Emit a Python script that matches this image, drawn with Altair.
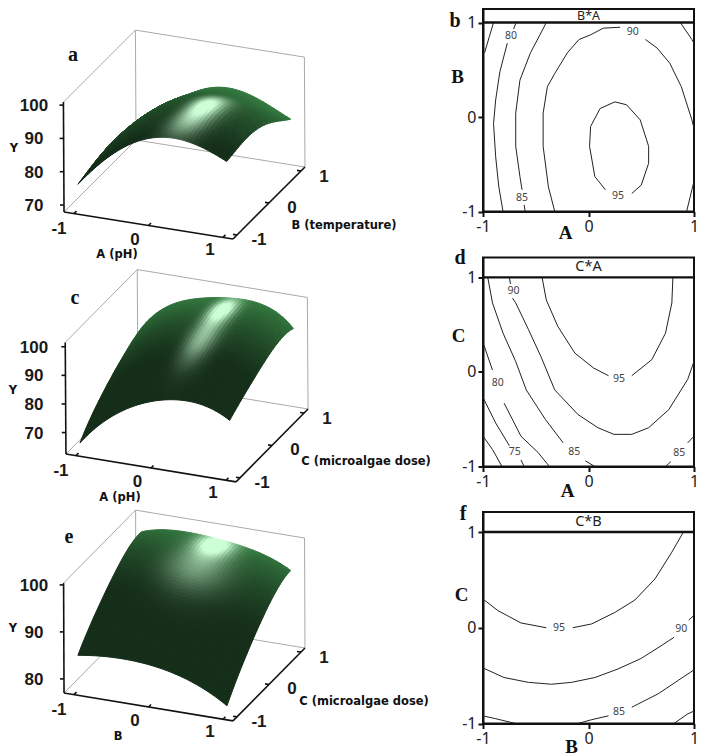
import altair as alt
import numpy as np

# ---------- response tables (rows: second factor -1..1, cols: first factor -1..1)
NODES = [-1, -0.5, 0, 0.5, 1]
SURF_A = [[75.5, 86.8, 93.0, 93.5, 89.5],
          [77.0, 88.2, 94.4, 96.0, 90.4],
          [77.7, 88.6, 94.5, 95.6, 89.9],
          [76.5, 86.7, 92.0, 91.7, 87.0],
          [72.5, 83.3, 89.0, 88.0, 83.0]]
SURF_C = [[65.5, 78.0, 84.5, 86.3, 82.0],
          [72.5, 83.7, 90.2, 91.0, 86.0],
          [77.5, 89.7, 94.7, 95.2, 89.5],
          [81.5, 93.0, 97.5, 98.0, 92.0],
          [84.0, 94.5, 98.0, 98.5, 91.5]]
SURF_E = [[84.5, 85.3, 84.9, 83.0, 79.0],
          [89.2, 90.5, 90.4, 88.5, 84.5],
          [93.0, 94.8, 94.8, 93.0, 89.0],
          [96.0, 97.5, 97.5, 96.2, 92.5],
          [97.0, 98.5, 98.2, 97.0, 94.0]]

# ---------- contour lines: (x, y) in coded units
CONT_B = [
    [(-.90,1),(-.94,.85),(-.985,.68)],
    [(-.69,.99),(-.71,.93)],
    [(-.77,.78),(-.84,.48),(-.88,.18),(-.90,-.07),(-.88,-.42),(-.85,-.74),(-.81,-1)],
    [(-.40,1),(-.46,.87),(-.55,.68),(-.65,.39),(-.69,.04),(-.69,-.31),(-.65,-.63),(-.63,-.77)],
    [(-.61,-.93),(-.60,-1)],
    [(-.32,-1),(-.38,-.74),(-.43,-.31),(-.43,.04),(-.39,.32),(-.32,.46),(-.2,.68),(-.09,.82),(.02,.87),(.14,.94),(.30,.95)],
    [(.54,.82),(.65,.73),(.77,.57),(.88,.32),(.98,-.03),(1,-.12)],
    [(1,-.68),(.98,-.77),(.93,-1)],
    [(.87,1),(.98,.82),(1,.78)],
    [(.16,-.77),(.06,-.63),(.01,-.31),(.02,-.1),(.11,.09),(.25,.16),(.36,.13),(.49,-.03),(.57,-.31),(.57,-.49),(.5,-.72),(.41,-.81)],
]
CONT_D = [
    [(-.44,1),(-.40,.76),(-.29,.48),(-.13,.2),(.05,.04),(.19,-.04)],
    [(.41,-.04),(.6,.13),(.73,.41),(.79,.73),(.80,1)],
    [(-.75,1),(-.74,.93)],
    [(-.72,.78),(-.69,.73),(-.57,.45),(-.45,.16),(-.32,-.19),(-.1,-.45),(.09,-.59),(.24,-.66),(.41,-.66),(.57,-.59),(.76,-.4),(.94,-.08),(1,.11)],
    [(-.955,1),(-.91,.73),(-.81,.41),(-.69,.11),(-.59,-.19),(-.41,-.5),(-.24,-.75)],
    [(-.03,-.94),(.06,-1)],
    [(-1,.31),(-.91,.02)],
    [(-.8,-.33),(-.64,-.68),(-.48,-.85),(-.37,-1)],
    [(-1,-.27),(-.88,-.54),(-.75,-.78)],
    [(-.64,-.93),(-.61,-1)],
    [(-1,-.68),(-.91,-.82),(-.82,-1)],
    [(.73,-1),(.78,-.95)],
    [(.94,-.75),(1,-.68)],
]
CONT_F = [
    [(-1,.3),(-.86,.18),(-.64,.05),(-.4,0)],
    [(-.15,0),(.03,.04),(.25,.16),(.44,.29),(.63,.51),(.79,.79),(.9,1)],
    [(-1,-.42),(-.8,-.52),(-.57,-.57),(-.35,-.59),(-.16,-.57),(.06,-.52),(.28,-.43),(.5,-.32),(.7,-.18),(.81,-.1)],
    [(.95,.08),(1,.13)],
    [(-1,-.92),(-.88,-.95),(-.69,-1)],
    [(-.1,-1),(.03,-.96),(.19,-.92)],
    [(.41,-.83),(.66,-.69),(.85,-.55),(1,-.44)],
    [(.81,-1),(.94,-.9),(1,-.87)],
]
LAB_B = [("80",-.735,.86),("90",.42,.90),("85",-.63,-.86),("95",.28,-.84)]
LAB_D = [("90",-.71,.86),("95",.29,-.07),("80",-.86,-.12),("75",-.70,-.85),("85",-.135,-.85),("85",.86,-.86)]
LAB_F = [("95",-.28,0),("90",.88,-.01),("85",.29,-.88)]

FONT = "Noto Sans"
SERIF = "Liberation Serif"
LEFT = 8
W_LEFT = 432
SN = 44
DARK = np.array([21, 46, 25.0])
MID = np.array([52, 122, 64.0])
LIGHT = np.array([205, 255, 215.0])


def lagrange(t):
    t = np.asarray(t)
    out = np.ones((len(t), len(NODES)))
    for i, ni in enumerate(NODES):
        for j, nj in enumerate(NODES):
            if i != j:
                out[:, i] *= (t - nj) / (ni - nj)
    return out


def hexc(c):
    c = np.clip(c, 0, 255).astype(int)
    return "#%02x%02x%02x" % (c[0], c[1], c[2])


def panel3d(cfg):
    cx, cy = cfg["center"]
    ua, ub, uy = cfg["ua"], cfg["ub"], cfg["uy"]
    yf, ytop = cfg["yfloor"], cfg["ytop"]
    ha, hb = cfg["ha"], cfg["hb"]
    top, bot = cfg["top"], cfg["bot"]

    def proj(a, b, y):
        return (float(cx + ua[0] * a + ub[0] * b - 0.018 * (y - yf)),
                float(cy + ua[1] * a + ub[1] * b - uy * (y - yf)))

    def seg(p, q):
        return {"x": p[0], "y": p[1], "x2": q[0], "y2": q[1]}

    xs = alt.Scale(domain=[LEFT, LEFT + W_LEFT], nice=False, zero=False)
    ys = alt.Scale(domain=[bot, top], nice=False, zero=False)
    enc = dict(x=alt.X("x:Q", scale=xs, axis=None), y=alt.Y("y:Q", scale=ys, axis=None),
               x2="x2:Q", y2="y2:Q")

    gray = [seg(proj(-ha, -hb, ytop), proj(-ha, hb, ytop)),
            seg(proj(-ha, hb, ytop), proj(ha, hb, ytop)),
            seg(proj(ha, hb, ytop), proj(ha, hb, yf)),
            seg(proj(ha, hb, yf), proj(-ha, hb, yf)),
            seg(proj(-ha, hb, yf), proj(-ha, -hb, yf)),
            seg(proj(-ha, hb, ytop), proj(-ha, hb, yf))]
    g = alt.Chart(alt.Data(values=gray)).mark_rule(color="#aaaaaa", strokeWidth=1).encode(**enc)

    black = [seg(proj(-ha, -hb, yf), proj(-ha, -hb, ytop)),
             seg(proj(-ha, -hb, yf), proj(ha, -hb, yf)),
             seg(proj(ha, -hb, yf), proj(ha, hb, yf))]
    for t in cfg["yticks"]:
        p = proj(-ha, -hb, t)
        black.append(seg(p, (p[0] - 4, p[1])))
    for t in [-1, 0, 1]:
        p = proj(t, -hb, yf)
        black.append(seg(p, (p[0] + 2.5, p[1] - 2.5)))
        p = proj(ha, t, yf)
        black.append(seg(p, (p[0] - 4, p[1] - 0.6)))
    b1 = alt.Chart(alt.Data(values=black)).mark_rule(color="#111", strokeWidth=1.6).encode(**enc)

    # surface cells
    fine = np.linspace(-1, 1, SN + 1)
    L = lagrange(fine)
    Z = L @ np.array(cfg["table"]) @ L.T
    feats = []
    for j in range(SN - 1, -1, -1):
        for i in range(SN):
            u = (fine[i] + fine[i + 1]) / 2
            v = (fine[j] + fine[j + 1]) / 2
            s = np.clip((v - cfg["v0"]) / (1 - cfg["v0"]), 0, 1) ** cfg["depth"]
            s = s * np.clip(1.1 - 0.25 * abs(u - cfg["hl"][0][0]), 0, 1)
            col = DARK + (MID - DARK) * s
            t = 0
            for (h_u, h_v, su, sv, amp) in cfg["hl"]:
                t += amp * np.exp(-((u - h_u) / su) ** 2 / 2 - ((v - h_v) / sv) ** 2 / 2)
            t = min(t, 1)
            col = col + (LIGHT - col) * t
            ring = [proj(fine[i], fine[j], Z[j, i]), proj(fine[i + 1], fine[j], Z[j, i + 1]),
                    proj(fine[i + 1], fine[j + 1], Z[j + 1, i + 1]), proj(fine[i], fine[j + 1], Z[j + 1, i])]
            ring = [[round(p[0] - LEFT, 2), round(p[1] - top, 2)] for p in ring]
            ring.append(ring[0])
            feats.append({"type": "Feature", "properties": {"c": hexc(col)},
                          "geometry": {"type": "Polygon", "coordinates": [ring]}})
    surf = (alt.Chart(alt.Data(values=feats))
            .mark_geoshape(strokeWidth=1.0)
            .encode(fill=alt.Fill("properties.c:N", scale=None),
                    stroke=alt.Stroke("properties.c:N", scale=None))
            .project(type="identity", scale=1, translate=[0, 0]))

    # text
    num = []
    for t in cfg["yticks"]:
        p = proj(-ha, -hb, t)
        num.append({"x": 33, "y": p[1] + 1, "t": str(t)})
    for t, d in zip([-1, 0, 1], [(-15, 15), (-13.5, 14.5), (-13, 13)]):
        p = proj(t, -hb, yf)
        num.append({"x": p[0] + d[0], "y": p[1] + d[1], "t": str(t)})
    for t, d in zip([-1, 0, 1], [(22, 5), (23, 5), (23, 6)]):
        p = proj(ha, t, yf)
        num.append({"x": p[0] + d[0], "y": p[1] + d[1], "t": str(t)})
    xe = alt.X("x:Q", scale=xs, axis=None)
    ye = alt.Y("y:Q", scale=ys, axis=None)
    tn = (alt.Chart(alt.Data(values=num))
          .mark_text(font="Liberation Sans", fontSize=17, fontWeight="bold", color="#1a1a1a", baseline="middle", align="center")
          .encode(x=xe, y=ye, text="t:N"))
    names = (alt.Chart(alt.Data(values=cfg["names"]))
             .mark_text(font="DejaVu Sans", fontSize=11.5, fontWeight="bold", color="#111", baseline="middle")
             .encode(x=xe, y=ye, text="t:N"))
    letter = (alt.Chart(alt.Data(values=[cfg["letter"]]))
              .mark_text(font=SERIF, fontSize=20, fontWeight="bold", color="#111", baseline="middle")
              .encode(x=xe, y=ye, text="t:N"))
    return alt.layer(g, surf, b1, tn, names, letter).properties(
        width=W_LEFT, height=bot - top, view=alt.ViewBackground(stroke=None))


def panel2d(lines, labels, title, top_dom, height, xname, xpos, yname, ypos, letter, lpos, tsize=14.5):
    xs = alt.Scale(domain=[-1, 1], nice=False, zero=False)
    ys = alt.Scale(domain=[-1, top_dom], nice=False, zero=False)
    ax = dict(values=[-1, 0, 1], grid=False, tickSize=5, tickWidth=2, tickColor="#111", domainColor="#111",
              domainWidth=2, labelFont=FONT, labelFontSize=16, labelColor="#222", labelFlush=False,
              labelExpr="'' + datum.value",
              titleFont=SERIF, titleFontSize=19, titleFontWeight="bold", titleColor="#111", titleBaseline="middle",
              labelOverlap=False, titleAngle=0)
    X = alt.X("x:Q", scale=xs, title=xname,
              axis=alt.Axis(titleX=xpos[0], titleY=xpos[1], labelPadding=2, **ax))
    Y = alt.Y("y:Q", scale=ys, title=yname,
              axis=alt.Axis(titleX=ypos[0], titleY=ypos[1], labelPadding=2, **ax))
    rows = [{"x": x, "y": y, "id": k, "i": i} for k, ln in enumerate(lines) for i, (x, y) in enumerate(ln)]
    ln = (alt.Chart(alt.Data(values=rows)).mark_line(color="#222", strokeWidth=1, clip=True)
          .encode(x=X, y=Y, detail="id:N", order="i:Q"))
    lb = (alt.Chart(alt.Data(values=[{"t": t, "x": x, "y": y} for t, x, y in labels]))
          .mark_text(font=FONT, fontSize=10.5, color="#444", baseline="middle")
          .encode(x=X, y=Y, text="t:N"))
    band = (alt.Chart(alt.Data(values=[{"y": 1}])).mark_rule(color="#111", strokeWidth=2.4).encode(y=Y))
    tt = (alt.Chart(alt.Data(values=[{"x": 0, "y": (1 + top_dom) / 2, "t": title}]))
          .mark_text(font=FONT, fontSize=tsize, color="#222", baseline="middle").encode(x=X, y=Y, text="t:N"))
    lt = (alt.Chart(alt.Data(values=[{"t": letter}]))
          .mark_text(font=SERIF, fontSize=20, fontWeight="bold", color="#111", baseline="middle", align="center")
          .encode(x=alt.value(lpos[0]), y=alt.value(lpos[1]), text="t:N"))
    return alt.layer(ln, lb, band, tt, lt).properties(
        width=211, height=height, view=alt.ViewBackground(stroke="#111", strokeWidth=2))


CFG_A = dict(table=SURF_A, center=(183.5, 189.5), ua=(74.5, 11.9), ub=(32, -32), uy=3.33, yfloor=67.9, ytop=100.9,
             ha=1.134, hb=1.125, top=9, bot=250, yticks=[70, 80, 90, 100], depth=1.0, v0=-.85,
             hl=[(.39, -.2, .15, .3, 1.15), (.3, -.7, .17, .25, .4)],
             names=[{"t": "Y", "x": 13, "y": 149}, {"t": "A (pH)", "x": 116, "y": 255},
                    {"t": "B (temperature)", "x": 343, "y": 226}],
             letter={"t": "a", "x": 72, "y": 55})
CFG_C = dict(table=SURF_C, center=(186, 431.5), ua=(75, 12.3), ub=(32, -32.4), uy=2.86, yfloor=62.5, ytop=101.5,
             ha=1.134, hb=1.125, top=250, bot=495, yticks=[70, 80, 90, 100], depth=1.2, v0=-.3,
             hl=[(.21, .66, .11, .22, 1.2), (.2, .05, .13, .33, .65)],
             names=[{"t": "Y", "x": 12, "y": 391}, {"t": "A (pH)", "x": 119, "y": 498},
                    {"t": "C (microalgae dose)", "x": 365, "y": 462}],
             letter={"t": "c", "x": 74, "y": 298})
CFG_E = dict(table=SURF_E, center=(183.5, 670.5), ua=(74.5, 12.3), ub=(32, -32.4), uy=4.7, yfloor=77, ytop=100.4,
             ha=1.134, hb=1.125, top=495, bot=747, yticks=[80, 90, 100], depth=1.5, v0=-.2,
             hl=[(.06, .85, .17, .2, 1.3), (.03, .35, .28, .28, .5)],
             names=[{"t": "Y", "x": 12, "y": 629}, {"t": "B", "x": 117, "y": 737},
                    {"t": "C (microalgae dose)", "x": 363, "y": 702}],
             letter={"t": "e", "x": 68, "y": 537})

left = alt.vconcat(panel3d(CFG_A), panel3d(CFG_C), panel3d(CFG_E), spacing=0, bounds="flush")
right = alt.vconcat(
    panel2d(CONT_B, LAB_B, "B*A", 1.143, 202.5, "A", (82, 21), "B", (-26, 67), "b", (-28, 12), tsize=12.5),
    panel2d(CONT_D, LAB_D, "C*A", 1.21, 209, "A", (84, 24), "C", (-25, 78), "d", (-23, 0)),
    panel2d(CONT_F, LAB_F, "C*B", 1.209, 211.5, "B", (88, 23), "C", (-22, 82), "f", (-20, 2)),
    spacing=45.5, bounds="flush")
chart = (alt.hconcat(left, right, spacing=7)
         .properties(padding=0, background="white")
         .configure_view(strokeWidth=0))
chart.save("out.html", embed_options={"renderer": "svg", "actions": False})
